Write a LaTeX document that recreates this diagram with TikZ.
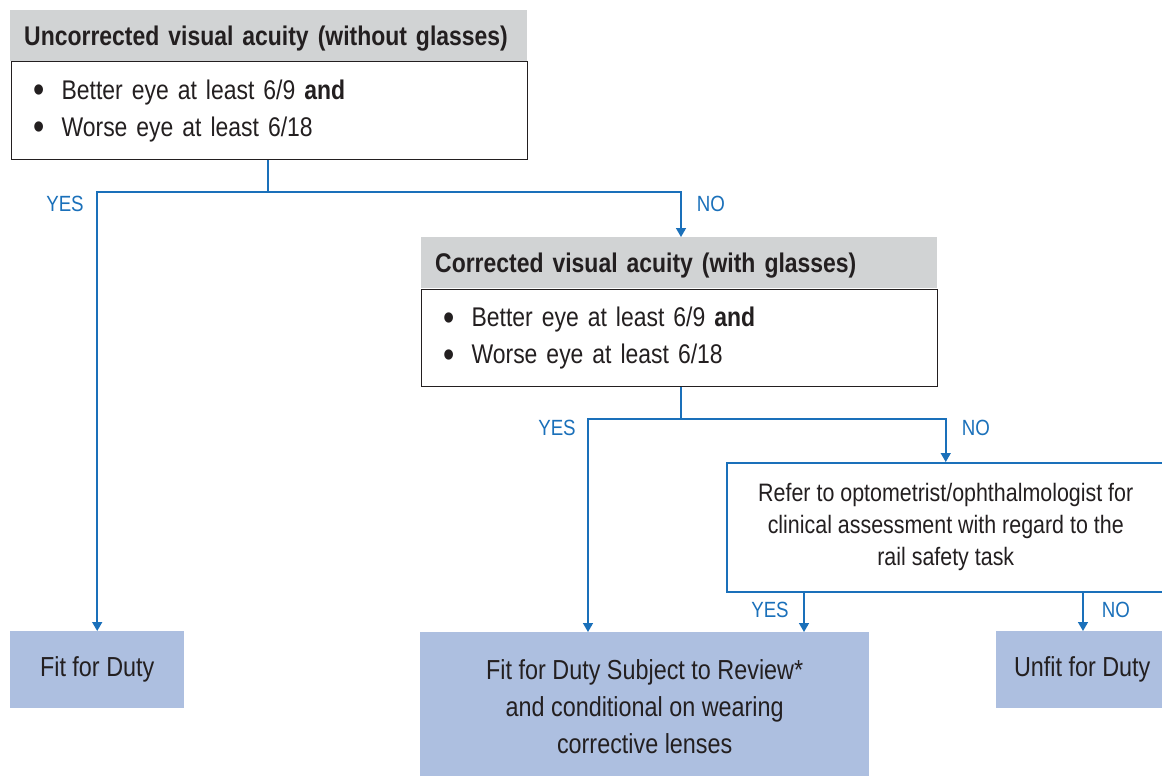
\documentclass[tikz,border=0pt]{standalone}
\usepackage{fontspec}
\setmainfont{Liberation Sans}[FakeStretch=0.85]
\usetikzlibrary{arrows.meta}
\definecolor{hdrgray}{RGB}{209,211,212}
\definecolor{linkblue}{RGB}{26,112,186}
\definecolor{outfill}{RGB}{173,191,224}
\definecolor{ink}{RGB}{35,31,32}
\begin{document}
\begin{tikzpicture}[x=1pt,y=-1pt,
  font=\fontsize{27.5}{37}\selectfont, text=ink,
  hdrbox/.style={fill=hdrgray, anchor=north west, inner xsep=14pt, inner ysep=0pt,
    minimum height=51pt, text height=19.5pt, text depth=0pt, align=left,
    font=\fontsize{27}{31}\selectfont\bfseries},
  bulletbox/.style={draw=ink, line width=1.2pt, fill=white, anchor=north west,
    inner xsep=22pt, inner ysep=0pt, align=left, font=\fontsize{27}{37}\selectfont},
  referbox/.style={draw=linkblue, line width=1.5pt, fill=white, anchor=north west,
    inner sep=0pt, align=center, font=\fontsize{25.2}{32}\selectfont},
  outbox/.style={fill=outfill, anchor=north west, inner sep=0pt, align=center},
  link/.style={draw=linkblue, line width=1.5pt},
  linkarrow/.style={link, -{Triangle[width=10pt,length=9pt]}},
  answer/.style={text=linkblue, font=\fontsize{22}{26}\selectfont, inner sep=0pt}
]
\clip (0,0) rectangle (1162,776);
\fill[white] (0,0) rectangle (1162,776);

\newcommand{\blt}{\makebox[28pt][l]{\raisebox{-3.5pt}{\scalebox{1.4}{•}}}}

% first test: uncorrected acuity
\node[hdrbox, text width=489pt] (h1) at (10,10) {Uncorrected visual acuity (without glasses)};
\node[bulletbox, text width=472pt, minimum height=98pt] (b1) at (11,61)
  {\blt Better eye at least 6/9 \textbf{and}\\ \blt Worse eye at least 6/18};

% second test: corrected acuity
\node[hdrbox, text width=488pt] (h2) at (421,237) {Corrected visual acuity (with glasses)};
\node[bulletbox, text width=472pt, minimum height=97pt] (b2) at (421,289)
  {\blt Better eye at least 6/9 \textbf{and}\\ \blt Worse eye at least 6/18};

% referral
\node[referbox, minimum width=438pt, minimum height=129pt] (r) at (726,462)
  {Refer to optometrist/ophthalmologist for\\ clinical assessment with regard to the\\ rail safety task};

% outcomes
\node[outbox, minimum width=174pt, minimum height=77pt] (f1) at (10,631) {Fit for Duty};
\node[outbox, minimum width=449pt, minimum height=148pt] (f2) at (420,632)
  {Fit for Duty Subject to Review*\\ and conditional on wearing\\ corrective lenses};
\node[outbox, minimum width=172pt, minimum height=77pt] (u) at (996,631) {Unfit for Duty};

% connector junctions and drop points
\coordinate (j1) at (268,192);
\coordinate (j2) at (681,419);
\coordinate (d2) at (588,419);
\coordinate (ry) at (804,591);
\coordinate (rn) at (1083,591);

\draw[link] (b1.south -| j1) -- (j1);
\draw[linkarrow] (j1) -| (f1.north);
\draw[linkarrow] (j1) -| (j2 |- h2.north);
\draw[link] (b2.south -| j2) -- (j2);
\draw[linkarrow] (j2) -| (d2 |- f2.north);
\draw[linkarrow] (j2) -| (r.north);
\draw[linkarrow] (ry) -- (ry |- f2.north);
\draw[linkarrow] (rn) -- (rn |- u.north);

% answer labels
\node[answer] (y1) at (65,204) {YES};
\node[answer] (n1) at (711,204) {NO};
\node[answer] (y2) at (557,428) {YES};
\node[answer] (n2) at (976,428) {NO};
\node[answer] (y3) at (770,610) {YES};
\node[answer] (n3) at (1116,610) {NO};
\end{tikzpicture}
\end{document}
